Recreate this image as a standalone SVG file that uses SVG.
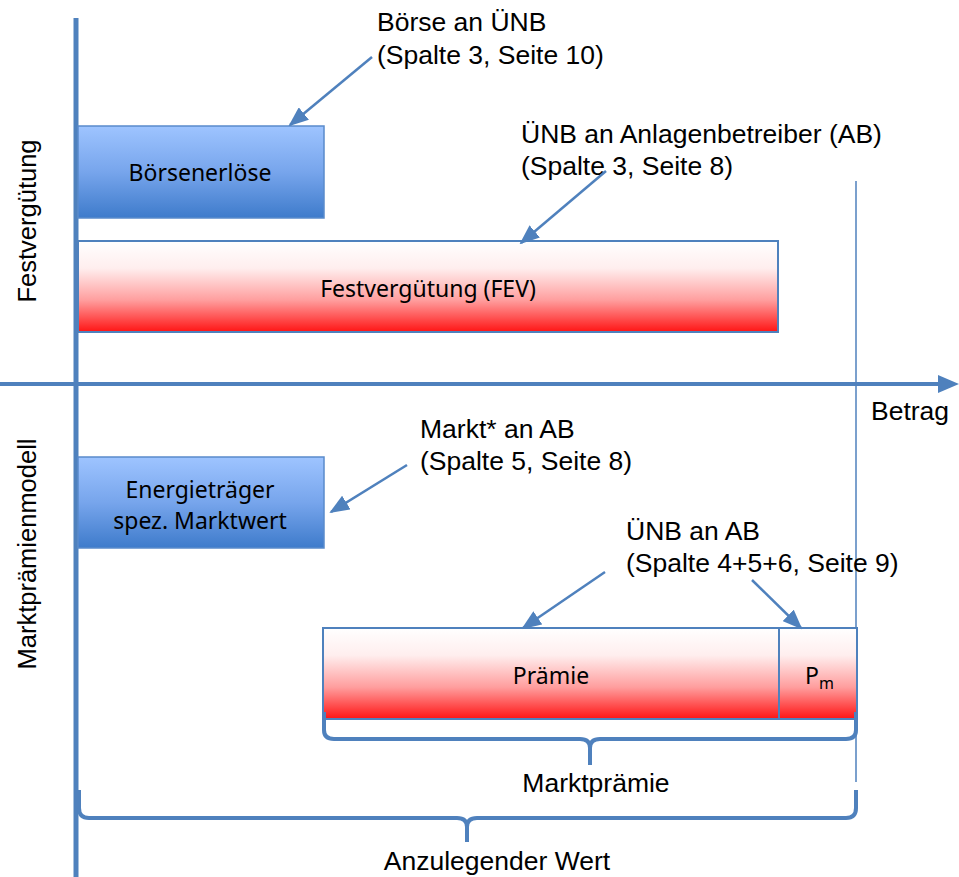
<svg xmlns="http://www.w3.org/2000/svg" width="959" height="877" viewBox="0 0 959 877">
<defs>
<linearGradient id="gBlue" x1="0" y1="0" x2="0" y2="1">
<stop offset="0" stop-color="#9EC4FF"/>
<stop offset="0.5" stop-color="#77A5EC"/>
<stop offset="1" stop-color="#3E7BCB"/>
</linearGradient>
<linearGradient id="gRed" x1="0" y1="0" x2="0" y2="1">
<stop offset="0" stop-color="#FFFFFF"/>
<stop offset="0.3" stop-color="#FFEEEE"/>
<stop offset="0.65" stop-color="#FF9E9E"/>
<stop offset="1" stop-color="#FF1414"/>
</linearGradient>
<marker id="ah" markerUnits="userSpaceOnUse" markerWidth="20" markerHeight="16" refX="18" refY="8" orient="auto">
<path d="M0,0 L20,8 L0,16 Z" fill="#4F81BD"/>
</marker>
<style>
.lbl{font-family:"Liberation Sans",Arial,sans-serif;font-size:26.5px;fill:#000}
.vl{font-family:"Liberation Sans",Arial,sans-serif;font-size:25.5px;fill:#000}
.box{font-family:"Noto Sans","Open Sans",sans-serif;font-size:23px;fill:#000}
.bb{fill:url(#gBlue);stroke:#5A8BCB;stroke-width:1.5}
.rb{fill:url(#gRed);stroke:#4F81BD;stroke-width:2}
.ar{stroke:#4F81BD;stroke-width:2.5;fill:none;marker-end:url(#ah)}
.br{stroke:#4F81BD;stroke-width:4;fill:none;stroke-linejoin:round}
</style>
</defs>
<rect width="959" height="877" fill="#fff"/>

<g id="axes">
<line x1="76" y1="18" x2="76" y2="877" stroke="#4F81BD" stroke-width="5"/>
<line x1="0" y1="384" x2="942" y2="384" stroke="#4F81BD" stroke-width="4"/>
<path d="M959,384 L938,375 L938,393 Z" fill="#4F81BD"/>
<line x1="856" y1="181" x2="856" y2="782" stroke="#4F81BD" stroke-width="1.5"/>
<text class="lbl" x="871" y="420">Betrag</text>
<text class="vl" transform="translate(36,221) rotate(-90)" text-anchor="middle">Festvergütung</text>
<text class="vl" transform="translate(36,554) rotate(-90)" text-anchor="middle">Marktprämienmodell</text>
</g>

<g id="boersenerloese">
<rect class="bb" x="78" y="126" width="246" height="92"/>
<text class="box" x="200" y="181" text-anchor="middle">Börsenerlöse</text>
</g>

<g id="festverguetung">
<rect class="rb" x="78" y="241" width="700" height="91"/>
<text class="box" x="428" y="297" text-anchor="middle">Festvergütung (FEV)</text>
</g>

<g id="energietraeger">
<rect class="bb" x="78" y="457" width="246" height="91"/>
<text class="box" x="200" y="498" text-anchor="middle">Energieträger</text>
<text class="box" x="200" y="529" text-anchor="middle">spez. Marktwert</text>
</g>

<g id="praemie">
<rect class="rb" x="323" y="628" width="456" height="91"/>
<text class="box" x="551" y="684" text-anchor="middle">Prämie</text>
</g>

<g id="pm">
<rect class="rb" x="779" y="628" width="78" height="91"/>
<text class="box" x="805" y="684">P<tspan font-size="16" dy="5">m</tspan></text>
</g>

<g id="labels">
<text class="lbl" x="377" y="31">Börse an ÜNB</text>
<text class="lbl" x="377" y="64">(Spalte 3, Seite 10)</text>
<text class="lbl" x="521" y="143">ÜNB an Anlagenbetreiber (AB)</text>
<text class="lbl" x="521" y="175">(Spalte 3, Seite 8)</text>
<text class="lbl" x="420" y="438">Markt* an AB</text>
<text class="lbl" x="420" y="470">(Spalte 5, Seite 8)</text>
<text class="lbl" x="626" y="540">ÜNB an AB</text>
<text class="lbl" x="626" y="572">(Spalte 4+5+6, Seite 9)</text>
<text class="lbl" x="596" y="792" text-anchor="middle">Marktprämie</text>
<text class="lbl" x="497" y="870" text-anchor="middle">Anzulegender Wert</text>
</g>

<g id="connectors">
<line class="ar" x1="372" y1="57" x2="290" y2="125"/>
<line class="ar" x1="606" y1="171" x2="521" y2="243"/>
<line class="ar" x1="407" y1="465" x2="331" y2="512"/>
<line class="ar" x1="605" y1="572" x2="523" y2="628"/>
<line class="ar" x1="752" y1="580" x2="801" y2="628"/>
<path class="br" d="M324,712 L324,730 Q324,739 334,739 L580,739 Q590,739 590,748 L590,765 M590,748 Q590,739 600,739 L846,739 Q856,739 856,730 L856,712"/>
<path class="br" d="M79,790 L79,808 Q79,818 89,818 L457,818 Q467,818 467,827 L467,842 M467,827 Q467,818 477,818 L846,818 Q856,818 856,808 L856,790"/>
</g>
</svg>
